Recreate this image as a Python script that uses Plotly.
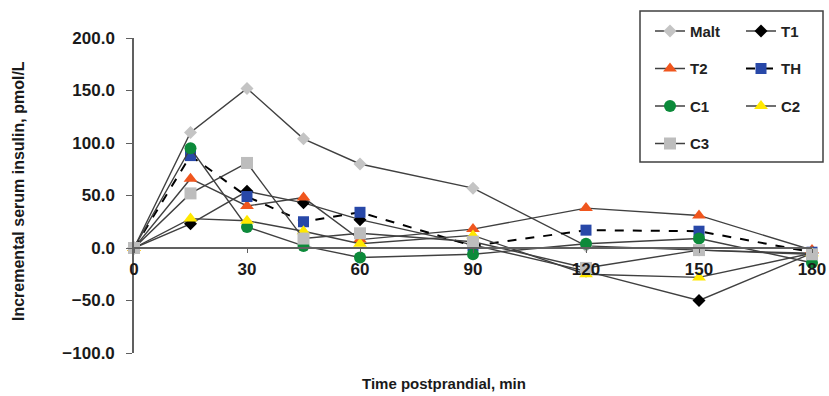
import plotly.graph_objects as go

# ---------------- data ----------------
time_min = [0, 15, 30, 45, 60, 90, 120, 150, 180]
x_tick_labels = ["0", "30", "60", "90", "120", "150", "180"]
x_tick_vals = [0, 30, 60, 90, 120, 150, 180]
y_tick_vals = [-100, -50, 0, 50, 100, 150, 200]

malt = [0, 110, 152, 104, 80, 57, 2, -2, -5]
t1 = [0, 23, 54, 43, 27, 3, -22, -50, -5]
t2 = [0, 66, 40, 48, 8, 18, 38, 31, -2]
th = [0, 88, 49, 25, 34, 2, 17, 16, -4]
c1 = [0, 95, 20, 2, -9, -6, 4, 9, -14]
c2 = [0, 28, 26, 16, 4, 12, -25, -28, -5]
c3 = [0, 52, 81, 9, 14, 6, -19, -2, -6]

# ---------------- geometry helpers ----------------
W, H = 829, 396
ML, MR, MT, MB = 134, 17, 38, 43
PW, PH = W - ML - MR, H - MT - MB


def px_x(px):
    return (px - ML) / PW


def px_y(py):
    return 1 - (py - MT) / PH


FONT = "Liberation Sans, Arial, sans-serif"
LINE_COL = "#404040"

series = [
    # name, values, symbol, color, size, dash, legend
    ("Malt", malt, "diamond", "#c4c4c4", 10, "solid", "legend"),
    ("T1", t1, "diamond", "#000000", 10, "solid", "legend2"),
    ("T2", t2, "triangle-up", "#f0561e", 12, "solid", "legend"),
    ("TH", th, "square", "#2848a8", 11, "dash", "legend2"),
    ("C1", c1, "circle", "#0c8a3a", 12, "solid", "legend"),
    ("C2", c2, "triangle-up", "#ffe800", 12, "solid", "legend2"),
    ("C3", c3, "square", "#bdbdbd", 12, "solid", "legend"),
]

fig = go.Figure()
for name, vals, sym, col, size, dash, leg in series:
    is_th = name == "TH"
    fig.add_trace(go.Scatter(
        x=time_min, y=vals, name=name, mode="lines+markers",
        line=dict(color="#000000" if is_th else LINE_COL,
                  width=2 if is_th else 1.4, dash=dash),
        marker=dict(symbol=sym, color=col, size=size, line=dict(width=0)),
        legend=leg, legendgroup=name, cliponaxis=False,
    ))

legend_common = dict(
    orientation="v", xanchor="left", yanchor="top",
    traceorder="grouped", tracegroupgap=15,
    bgcolor="rgba(0,0,0,0)", borderwidth=0,
    font=dict(family=FONT, size=15, color="#222222", weight="bold"),
)
leg_top = px_y(14.75)

fig.update_layout(
    width=W, height=H,
    margin=dict(l=ML, r=MR, t=MT, b=MB, autoexpand=False),
    paper_bgcolor="white", plot_bgcolor="white",
    showlegend=True,
    legend=dict(x=px_x(650), y=leg_top, **legend_common),
    legend2=dict(x=px_x(741), y=leg_top, **legend_common),
    xaxis=dict(
        range=[0, 180], tickvals=x_tick_vals, ticktext=x_tick_labels,
        anchor="free", position=1 / 3,
        showline=True, linecolor="#606060", linewidth=1.5,
        ticks="outside", ticklen=4, tickcolor="#606060", tickwidth=1.2,
        ticklabelstandoff=2,
        showgrid=False, zeroline=False,
        tickfont=dict(family=FONT, size=17, color="#1a1a1a", weight="bold"),
    ),
    yaxis=dict(
        range=[-100, 200], tickvals=y_tick_vals, tickformat=".1f",
        showline=True, linecolor="#606060", linewidth=1.5,
        ticks="outside", ticklen=6, tickcolor="#606060", tickwidth=1.2,
        ticklabelstandoff=8,
        showgrid=False, zeroline=False,
        tickfont=dict(family=FONT, size=17, color="#1a1a1a", weight="bold"),
    ),
    shapes=[dict(
        type="rect", xref="paper", yref="paper",
        x0=px_x(640), x1=px_x(823), y0=px_y(162), y1=px_y(11),
        line=dict(color="#404040", width=1.5), fillcolor="rgba(0,0,0,0)",
    )],
    annotations=[
        dict(text="Incremental serum insulin, pmol/L", textangle=-90,
             xref="paper", yref="paper", x=px_x(18), y=px_y(191),
             xanchor="center", yanchor="middle", showarrow=False,
             font=dict(family=FONT, size=16, color="#1a1a1a", weight="bold")),
        dict(text="Time postprandial, min",
             xref="paper", yref="paper", x=px_x(444), y=px_y(383),
             xanchor="center", yanchor="middle", showarrow=False,
             font=dict(family=FONT, size=15, color="#1a1a1a", weight="bold")),
    ],
)

fig.write_html(
    "out.html",
    config={"displayModeBar": False},
    post_script="document.body.style.margin='0';document.body.style.overflow='hidden';",
)
